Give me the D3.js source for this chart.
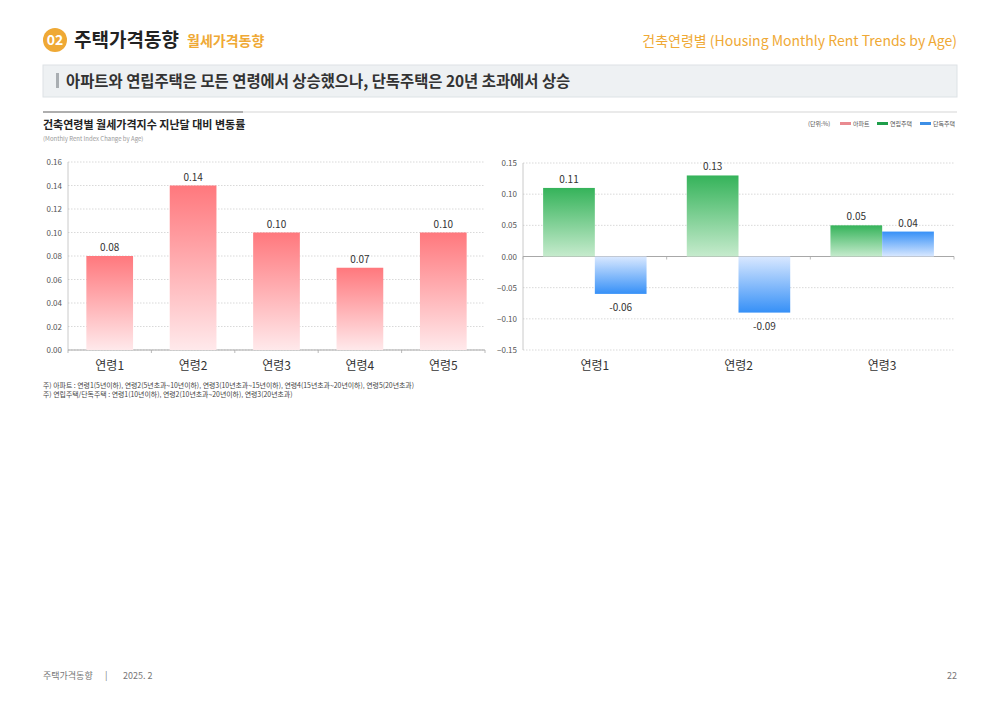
<!DOCTYPE html>
<html>
<head>
<meta charset="utf-8">
<script src="https://cdn.jsdelivr.net/npm/d3@7"></script>
<style>
  body { margin: 0; background: #fff; }
  svg { display: block; font-family: "Noto Sans CJK KR", "Noto Sans", sans-serif; }
</style>
</head>
<body>
<svg id="page" width="1000" height="707"></svg>
<script>
// left chart: 아파트
var aptAges = ["연령1", "연령2", "연령3", "연령4", "연령5"];
var aptValues = [0.08, 0.14, 0.10, 0.07, 0.10];
var aptTicks = [0, 0.02, 0.04, 0.06, 0.08, 0.10, 0.12, 0.14, 0.16];

// right chart: 연립주택 / 단독주택
var rowAges = ["연령1", "연령2", "연령3"];
var rowHouse = [0.11, 0.13, 0.05];
var detached = [-0.06, -0.09, 0.04];
var rowTicks = [-0.15, -0.10, -0.05, 0, 0.05, 0.10, 0.15];

var seriesNames = ["아파트", "연립주택", "단독주택"];
var notes = [
  "주) 아파트 : 연령1(5년이하), 연령2(5년초과~10년이하), 연령3(10년초과~15년이하), 연령4(15년초과~20년이하), 연령5(20년초과)",
  "주) 연립주택/단독주택 : 연령1(10년이하), 연령2(10년초과~20년이하), 연령3(20년초과)"
];

var svg = d3.select("#page");
var orange = "#EFA935";

// gradients: strong colour at the value end, pale at zero
var defs = svg.append("defs");
function grad(id, strong, pale, up) {
  var g = defs.append("linearGradient").attr("id", id)
    .attr("x1", 0).attr("x2", 0).attr("y1", up ? 0 : 1).attr("y2", up ? 1 : 0);
  g.append("stop").attr("offset", 0).attr("stop-color", strong);
  g.append("stop").attr("offset", 1).attr("stop-color", pale);
}
grad("gPink", "#FF787D", "#FFE9EB", true);
grad("gGreenUp", "#35B35A", "#C6EBCD", true);
grad("gBlueUp", "#3690F7", "#D9E8FF", true);
grad("gBlueDown", "#3690F7", "#D9E8FF", false);

// ---- header
svg.append("circle").attr("cx", 55).attr("cy", 40).attr("r", 12).attr("fill", orange);
svg.append("text").attr("x", 55).attr("y", 45).attr("text-anchor", "middle")
  .attr("font-size", 14).attr("font-weight", "bold").attr("fill", "#fff").text("02");
svg.append("text").attr("x", 74).attr("y", 47).attr("font-size", 19).attr("font-weight", "bold")
  .attr("fill", "#222").text("주택가격동향");
svg.append("text").attr("x", 187).attr("y", 46).attr("font-size", 14).attr("font-weight", "bold")
  .attr("fill", orange).text("월세가격동향");
svg.append("text").attr("x", 957).attr("y", 46).attr("text-anchor", "end")
  .attr("font-size", 14).attr("fill", orange).text("건축연령별 (Housing Monthly Rent Trends by Age)");

svg.append("rect").attr("x", 43).attr("y", 65).attr("width", 914).attr("height", 32)
  .attr("fill", "#EEF1F3").attr("stroke", "#DDE2E5");
svg.append("rect").attr("x", 56).attr("y", 73).attr("width", 3).attr("height", 15).attr("fill", "#A9AEB2");
svg.append("text").attr("x", 66).attr("y", 86.5).attr("font-size", 15.4).attr("font-weight", "bold")
  .attr("fill", "#333").text("아파트와 연립주택은 모든 연령에서 상승했으나, 단독주택은 20년 초과에서 상승");

svg.append("line").attr("x1", 43).attr("x2", 957).attr("y1", 112).attr("y2", 112)
  .attr("stroke", "#D5D5D5").attr("stroke-width", 1);
svg.append("line").attr("x1", 43).attr("x2", 243).attr("y1", 112).attr("y2", 112)
  .attr("stroke", "#9A9A9A").attr("stroke-width", 1.5);
svg.append("text").attr("x", 43).attr("y", 129).attr("font-size", 11).attr("font-weight", "bold")
  .attr("fill", "#222").text("건축연령별 월세가격지수 지난달 대비 변동률");
svg.append("text").attr("x", 43).attr("y", 141).attr("font-size", 6).attr("fill", "#999")
  .text("(Monthly Rent Index Change by Age)");

// legend
svg.append("text").attr("x", 808).attr("y", 126).attr("font-size", 6).attr("fill", "#555").text("(단위:%)");
var legendColors = ["#E98A90", "#1E9E4A", "#3D8FE6"];
var legendX = [840, 877, 920];
seriesNames.forEach(function(name, i) {
  svg.append("rect").attr("x", legendX[i]).attr("y", 122).attr("width", 11).attr("height", 3)
    .attr("fill", legendColors[i]);
  svg.append("text").attr("x", legendX[i] + 13).attr("y", 126).attr("font-size", 6)
    .attr("fill", "#555").text(name);
});

// ---- shared axis drawing
function frame(g, x0, x1, y, ticks, fmt, nCats) {
  g.append("g").selectAll("line").data(ticks).enter().append("line")
    .attr("x1", x0).attr("x2", x1)
    .attr("y1", function(d) { return y(d); }).attr("y2", function(d) { return y(d); })
    .attr("stroke", "#C9C9C9").attr("stroke-width", 0.7).attr("stroke-dasharray", "1.5,1.5");
  g.append("line").attr("x1", x0).attr("x2", x0)
    .attr("y1", y(ticks[ticks.length - 1])).attr("y2", y(ticks[0]))
    .attr("stroke", "#BDBDBD").attr("stroke-width", 0.8);
  g.append("g").selectAll("text").data(ticks).enter().append("text")
    .attr("x", x0 - 6).attr("y", function(d) { return y(d) + 3; })
    .attr("text-anchor", "end").attr("font-size", 8).attr("fill", "#555")
    .text(fmt);
  // zero axis with category separators
  g.append("line").attr("x1", x0).attr("x2", x1).attr("y1", y(0)).attr("y2", y(0))
    .attr("stroke", "#A8A8A8").attr("stroke-width", 1);
  g.append("g").selectAll("line").data(d3.range(nCats + 1))
    .enter().append("line")
    .attr("x1", function(i) { return x0 + i * (x1 - x0) / nCats; })
    .attr("x2", function(i) { return x0 + i * (x1 - x0) / nCats; })
    .attr("y1", y(0)).attr("y2", y(0) + 3)
    .attr("stroke", "#A8A8A8").attr("stroke-width", 0.8);
}

// ---- left chart
var left = svg.append("g");
var lx = d3.scaleBand().domain(aptAges).range([68, 485]).paddingInner(0.44).paddingOuter(0.22);
var ly = d3.scaleLinear().domain([0, 0.16]).range([350, 162]);
frame(left, 68, 485, ly, aptTicks, d3.format(".2f"), aptAges.length);

left.selectAll("rect.bar").data(aptValues).enter().append("rect")
  .attr("class", "bar")
  .attr("x", function(d, i) { return lx(aptAges[i]); })
  .attr("width", lx.bandwidth())
  .attr("y", function(d) { return ly(d); })
  .attr("height", function(d) { return ly(0) - ly(d); })
  .attr("fill", "url(#gPink)");
left.selectAll("text.val").data(aptValues).enter().append("text")
  .attr("class", "val")
  .attr("x", function(d, i) { return lx(aptAges[i]) + lx.bandwidth() / 2; })
  .attr("y", function(d) { return ly(d) - 5; })
  .attr("text-anchor", "middle").attr("font-size", 10).attr("fill", "#333")
  .text(d3.format(".2f"));
left.selectAll("text.cat").data(aptAges).enter().append("text")
  .attr("class", "cat")
  .attr("x", function(d) { return lx(d) + lx.bandwidth() / 2; })
  .attr("y", 370).attr("text-anchor", "middle").attr("font-size", 12).attr("fill", "#333")
  .text(function(d) { return d; });

// ---- right chart
var right = svg.append("g");
var rx = d3.scaleBand().domain(rowAges).range([523, 954]).paddingInner(0.28).paddingOuter(0.14);
var ry = d3.scaleLinear().domain([-0.15, 0.15]).range([350, 163]);
frame(right, 523, 954, ry, rowTicks, d3.format(".2f"), rowAges.length);

var pairs = [];
rowAges.forEach(function(a, i) {
  pairs.push({ cat: a, k: 0, v: rowHouse[i] });
  pairs.push({ cat: a, k: 1, v: detached[i] });
});
var sub = d3.scaleBand().domain([0, 1]).range([0, rx.bandwidth()]);

right.selectAll("rect.bar").data(pairs).enter().append("rect")
  .attr("class", "bar")
  .attr("x", function(d) { return rx(d.cat) + sub(d.k); })
  .attr("width", sub.bandwidth())
  .attr("y", function(d) { return ry(Math.max(0, d.v)); })
  .attr("height", function(d) { return Math.abs(ry(d.v) - ry(0)); })
  .attr("fill", function(d) {
    if (d.k === 0) return "url(#gGreenUp)";
    return d.v >= 0 ? "url(#gBlueUp)" : "url(#gBlueDown)";
  });
right.selectAll("text.val").data(pairs).enter().append("text")
  .attr("class", "val")
  .attr("x", function(d) { return rx(d.cat) + sub(d.k) + sub.bandwidth() / 2; })
  .attr("y", function(d) { return d.v >= 0 ? ry(d.v) - 5 : ry(d.v) + 17; })
  .attr("text-anchor", "middle").attr("font-size", 10).attr("fill", "#333")
  .text(function(d) { return d3.format(".2f")(d.v).replace("−", "-"); });
right.selectAll("text.cat").data(rowAges).enter().append("text")
  .attr("class", "cat")
  .attr("x", function(d) { return rx(d) + rx.bandwidth() / 2; })
  .attr("y", 370).attr("text-anchor", "middle").attr("font-size", 12).attr("fill", "#333")
  .text(function(d) { return d; });

// ---- notes and footer
svg.selectAll("text.note").data(notes).enter().append("text")
  .attr("class", "note")
  .attr("x", 43).attr("y", function(d, i) { return 388 + i * 8.5; })
  .attr("font-size", 6.9).attr("fill", "#444")
  .text(function(d) { return d; });

svg.append("text").attr("x", 43).attr("y", 679).attr("font-size", 9).attr("fill", "#777")
  .text("주택가격동향");
svg.append("text").attr("x", 105).attr("y", 679).attr("font-size", 9).attr("fill", "#777").text("|");
svg.append("text").attr("x", 123).attr("y", 679).attr("font-size", 9).attr("fill", "#777").text("2025. 2");
svg.append("text").attr("x", 957).attr("y", 679).attr("text-anchor", "end").attr("font-size", 9)
  .attr("fill", "#777").text("22");
</script>
</body>
</html>
